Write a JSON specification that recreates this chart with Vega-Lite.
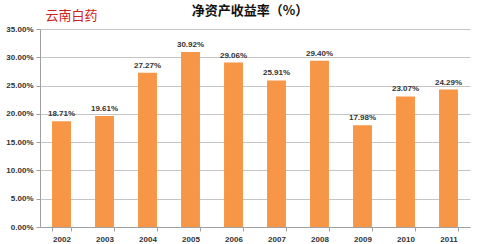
{
  "$schema": "https://vega.github.io/schema/vega-lite/v6.json",
  "autosize": "none",
  "width": 430,
  "height": 198,
  "padding": {"left": 40, "top": 29, "right": 30, "bottom": 17},
  "background": "white",
  "title": {
    "text": "净资产收益率（%）",
    "anchor": "middle",
    "frame": "group",
    "offset": -9,
    "fontSize": 13,
    "fontWeight": "bold",
    "font": "Noto Sans CJK SC",
    "color": "#111111",
    "dx": -5
  },
  "data": {
    "values": [
      {"year": "2002", "roe": 0.1871},
      {"year": "2003", "roe": 0.1961},
      {"year": "2004", "roe": 0.2727},
      {"year": "2005", "roe": 0.3092},
      {"year": "2006", "roe": 0.2906},
      {"year": "2007", "roe": 0.2591},
      {"year": "2008", "roe": 0.2940},
      {"year": "2009", "roe": 0.1798},
      {"year": "2010", "roe": 0.2307},
      {"year": "2011", "roe": 0.2429}
    ]
  },
  "encoding": {
    "x": {
      "field": "year",
      "type": "ordinal",
      "scale": {"paddingInner": 0.56, "paddingOuter": 0.28},
      "axis": {
        "title": null,
        "labelAngle": 0,
        "labelFont": "Liberation Sans",
        "labelFontSize": 8,
        "labelFontWeight": "bold",
        "labelColor": "#333333",
        "labelPadding": 4,
        "domainColor": "#a0a0a0",
        "tickColor": "#a0a0a0",
        "tickBand": "extent",
        "tickSize": 4,
        "grid": false
      }
    },
    "y": {
      "field": "roe",
      "type": "quantitative",
      "scale": {"domain": [0, 0.35], "nice": false},
      "axis": {
        "title": "云南白药",
        "titleAngle": 0,
        "titleX": 5,
        "titleY": -14,
        "titleAlign": "left",
        "titleBaseline": "middle",
        "titleFont": "Noto Sans CJK SC",
        "titleFontSize": 13,
        "titleFontWeight": "normal",
        "titleColor": "#d02020",
        "values": [0, 0.05, 0.1, 0.15, 0.2, 0.25, 0.3, 0.35],
        "format": ".2%",
        "labelFont": "Liberation Sans",
        "labelFontSize": 8,
        "labelFontWeight": "bold",
        "labelColor": "#333333",
        "labelPadding": 3,
        "domainColor": "#a0a0a0",
        "tickColor": "#a0a0a0",
        "tickSize": 4,
        "gridColor": "#c4c4c4",
        "gridWidth": 1
      }
    }
  },
  "layer": [
    {"mark": {"type": "bar", "color": "#f79646"}},
    {
      "mark": {
        "type": "text",
        "dy": -7,
        "font": "Liberation Sans",
        "fontSize": 8,
        "fontWeight": "bold",
        "color": "#333333"
      },
      "encoding": {"text": {"field": "roe", "type": "quantitative", "format": ".2%"}}
    }
  ],
  "config": {"view": {"stroke": null}}
}
